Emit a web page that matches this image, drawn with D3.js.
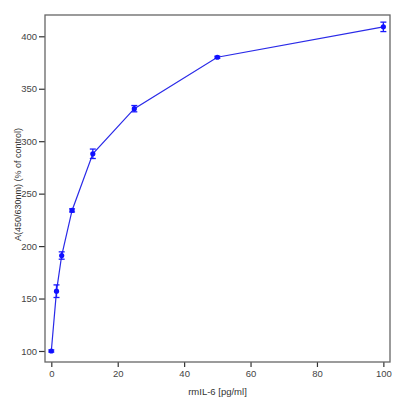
<!DOCTYPE html>
<html lang="en">
<head>
    <meta charset="UTF-8">
    <title>rmIL-6 dose response</title>
    <script src="https://d3js.org/d3.v7.min.js"></script>
    <style>
        body { margin: 0; background: #fff; }
        text { font-family: Arial, "Liberation Sans", sans-serif; }
    </style>
</head>
<body>
    <div id="chart"></div>
    <script>
        // Data
        const dose = [0, 1.5625, 3.125, 6.25, 12.5, 25, 50, 100];     // rmIL-6 [pg/ml]
        const response = [100, 157, 191, 234, 288, 331, 380, 409];   // % of control
        const errors = [1, 6, 3.5, 1.5, 4.5, 3, 1, 4.5];
        const xTicks = [0, 20, 40, 60, 80, 100];
        const yTicks = [100, 150, 200, 250, 300, 350, 400];

        const width = 399;
        const height = 400;
        const margin = { top: 15, right: 9, bottom: 38, left: 45 };

        const svg = d3.select("#chart").append("svg")
            .attr("width", width)
            .attr("height", height);

        const x = d3.scaleLinear()
            .domain([-1.9, 102])
            .range([margin.left, width - margin.right]);

        const y = d3.scaleLinear()
            .domain([89.5, 420.3])
            .range([height - margin.bottom, margin.top]);

        const data = dose.map((d, i) => ({ x: d, y: response[i], e: errors[i] }));

        // Axes
        const xAxis = svg.append("g")
            .attr("transform", `translate(0,${height - margin.bottom})`)
            .call(d3.axisBottom(x).tickValues(xTicks).tickSize(5).tickPadding(3).tickSizeOuter(0));

        const yAxis = svg.append("g")
            .attr("transform", `translate(${margin.left},0)`)
            .call(d3.axisLeft(y).tickValues(yTicks).tickSize(6).tickPadding(2).tickSizeOuter(0));

        [xAxis, yAxis].forEach(g => {
            g.select(".domain").remove();
            g.selectAll(".tick line").attr("stroke", "#333").attr("stroke-width", 1.2);
            g.selectAll(".tick text").attr("fill", "#444").style("font-size", "9.5px");
        });

        // Frame
        svg.append("rect")
            .attr("x", margin.left)
            .attr("y", margin.top)
            .attr("width", width - margin.left - margin.right)
            .attr("height", height - margin.top - margin.bottom)
            .attr("fill", "none")
            .attr("stroke", "#666")
            .attr("stroke-width", 1.3);

        // Line
        const line = d3.line().x(d => x(d.x)).y(d => y(d.y));
        svg.append("path")
            .datum(data)
            .attr("d", line)
            .attr("fill", "none")
            .attr("stroke", "#2a2ae8")
            .attr("stroke-width", 1.2);

        // Error bars
        const bars = svg.append("g").attr("stroke", "#1a1aff").attr("stroke-width", 1.3);
        data.forEach(d => {
            bars.append("line")
                .attr("x1", x(d.x)).attr("x2", x(d.x))
                .attr("y1", y(d.y - d.e)).attr("y2", y(d.y + d.e));
            [d.y - d.e, d.y + d.e].forEach(v => {
                bars.append("line")
                    .attr("x1", x(d.x) - 3).attr("x2", x(d.x) + 3)
                    .attr("y1", y(v)).attr("y2", y(v));
            });
        });

        // Markers
        svg.append("g")
            .selectAll("circle")
            .data(data)
            .enter()
            .append("circle")
            .attr("cx", d => x(d.x))
            .attr("cy", d => y(d.y))
            .attr("r", 2.6)
            .attr("fill", "#1010ff");

        // Axis labels
        svg.append("text")
            .attr("x", (margin.left + width - margin.right) / 2)
            .attr("y", 395)
            .attr("text-anchor", "middle")
            .attr("fill", "#333")
            .style("font-size", "9.5px")
            .text("rmIL-6 [pg/ml]");

        svg.append("text")
            .attr("transform", `translate(21,${(margin.top + height - margin.bottom) / 2 - 4}) rotate(-90)`)
            .attr("text-anchor", "middle")
            .attr("fill", "#333")
            .style("font-size", "9px")
            .text("A(450/630nm) (% of control)");
    </script>
</body>
</html>
